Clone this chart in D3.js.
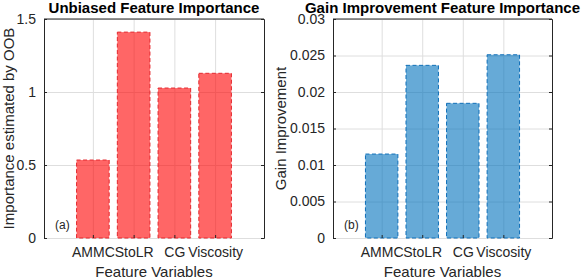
<!DOCTYPE html>
<html>
<head>
<meta charset="utf-8">
<script src="https://cdn.jsdelivr.net/npm/d3@7"></script>
<style>
  body { margin: 0; background: #fff; }
  svg { display: block; font-family: "Liberation Sans", Arial, sans-serif; }
  .tick text { fill: #262626; }
</style>
</head>
<body>
<svg id="chart" width="584" height="278"></svg>
<script>
// feature names and the two importance measures
const features = ["AMMC", "StoLR", "CG", "Viscosity"];
const oobImportance = [0.534, 1.41, 1.027, 1.128];
const gainImportance = [0.0115, 0.02365, 0.01845, 0.0251];
const oobTicks = [0, 0.5, 1, 1.5];
const gainTicks = [0, 0.005, 0.01, 0.015, 0.02, 0.025, 0.03];

const svg = d3.select("#chart");

// each panel: plot box in pixels
const panels = [
  {
    box: { left: 44, right: 264, top: 19, bottom: 238 },
    title: "Unbiased Feature Importance",
    ylabel: "Importance estimated by OOB",
    ylabelX: 13.5,
    tag: "(a)",
    values: oobImportance,
    ticks: oobTicks,
    fill: "#ff0000",
    edge: "#e4262c"
  },
  {
    box: { left: 333, right: 552, top: 19, bottom: 238 },
    title: "Gain Improvement Feature Importance",
    ylabel: "Gain Improvement",
    ylabelX: 286,
    tag: "(b)",
    values: gainImportance,
    ticks: gainTicks,
    fill: "#0072bd",
    edge: "#0f6fb8"
  }
];

panels.forEach(drawPanel);

function drawPanel(p) {
  const b = p.box;
  const w = b.right - b.left;
  const h = b.bottom - b.top;

  const x = d3.scaleLinear()
    .domain([-0.2, features.length + 1.2])
    .range([0, w]);
  const y = d3.scaleLinear()
    .domain([0, d3.max(p.ticks)])
    .range([h, 0]);
  const catPos = features.map((d, i) => i + 1);
  const barW = x(0.8) - x(0);

  const g = svg.append("g").attr("transform", `translate(${b.left},${b.top})`);

  // grid lines
  g.append("g")
    .call(d3.axisLeft(y).tickValues(p.ticks).tickSize(-w).tickFormat(""))
    .call(s => s.select(".domain").remove())
    .call(s => s.selectAll("line").attr("stroke", "#dedede"));
  g.append("g")
    .call(d3.axisBottom(x).tickValues(catPos).tickSize(h).tickFormat(""))
    .call(s => s.select(".domain").remove())
    .call(s => s.selectAll("line").attr("stroke", "#dedede"));

  // bars
  g.selectAll(".bar")
    .data(p.values)
    .enter().append("rect")
    .attr("class", "bar")
    .attr("x", (d, i) => x(catPos[i]) - barW / 2)
    .attr("y", d => y(d))
    .attr("width", barW)
    .attr("height", d => h - y(d))
    .attr("fill", p.fill)
    .attr("fill-opacity", 0.6)
    .attr("stroke", p.edge)
    .attr("stroke-width", 1)
    .attr("stroke-dasharray", "4,2.5");

  // left axis with labels, inward ticks
  const yAxis = g.append("g")
    .call(d3.axisLeft(y).tickValues(p.ticks).tickSize(-3).tickPadding(8)
      .tickFormat(d3.format("~g")));
  yAxis.selectAll("text").attr("font-size", 14).attr("font-family", "Liberation Sans, Arial, sans-serif");
  yAxis.select(".domain").attr("stroke", "#262626");
  yAxis.selectAll("line").attr("stroke", "#262626");

  // right axis, ticks only
  const yRight = g.append("g")
    .attr("transform", `translate(${w},0)`)
    .call(d3.axisRight(y).tickValues(p.ticks).tickSize(-3).tickFormat(""));
  yRight.select(".domain").attr("stroke", "#262626");
  yRight.selectAll("line").attr("stroke", "#262626");

  // top border
  g.append("line")
    .attr("x1", 0).attr("x2", w).attr("y1", 0).attr("y2", 0)
    .attr("stroke", "#262626");

  // bottom category labels, no axis line
  const xAxis = g.append("g")
    .attr("transform", `translate(0,${h})`)
    .call(d3.axisBottom(x).tickValues(catPos).tickSize(-3).tickPadding(9)
      .tickFormat((d, i) => features[i]));
  xAxis.select(".domain").remove();
  xAxis.selectAll("line").attr("stroke", "#262626");
  xAxis.selectAll("text").attr("font-size", 14).attr("font-family", "Liberation Sans, Arial, sans-serif");

  // panel tag
  g.append("text")
    .attr("x", 11)
    .attr("y", h - 9)
    .attr("font-size", 12)
    .attr("fill", "#262626")
    .text(p.tag);

  // titles and labels
  svg.append("text")
    .attr("x", b.left + w / 2)
    .attr("y", 13)
    .attr("text-anchor", "middle")
    .attr("font-size", 15)
    .attr("font-weight", "bold")
    .attr("fill", "#000")
    .text(p.title);

  svg.append("text")
    .attr("x", b.left + w / 2)
    .attr("y", 277)
    .attr("text-anchor", "middle")
    .attr("font-size", 15)
    .attr("fill", "#262626")
    .text("Feature Variables");

  svg.append("text")
    .attr("transform", `translate(${p.ylabelX},${b.top + h / 2}) rotate(-90)`)
    .attr("text-anchor", "middle")
    .attr("font-size", 15)
    .attr("fill", "#262626")
    .text(p.ylabel);
}
</script>
</body>
</html>
